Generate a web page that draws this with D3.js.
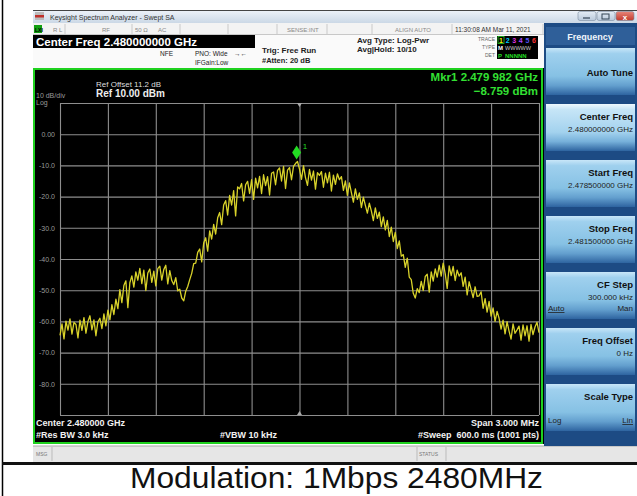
<!DOCTYPE html>
<html>
<head>
<meta charset="utf-8">
<script src="https://cdn.jsdelivr.net/npm/d3@7"></script>
<style>
  body { margin: 0; background: #fff; }
  svg { display: block; font-family: "Liberation Sans", Arial, sans-serif; }
</style>
</head>
<body>
<script>
// sweep settings
var startFreqGHz = 2.4785;
var stopFreqGHz = 2.4815;
var refLevel = 10, dbPerDiv = 10, divisions = 10;

// averaged trace, dBm, one value every 12.5 kHz (241 pts)
var traceDbm = [
  -64.5, -60.8, -65.6, -59.9, -62.8, -59.2, -64.1, -60.3, -61.0, -65.3,
  -59.6, -62.9, -58.8, -63.8, -60.0, -58.2, -62.7, -59.5, -64.6, -60.1,
  -59.0, -62.3, -57.6, -61.4, -56.4, -59.5, -54.6, -57.8, -52.9, -55.9,
  -49.8, -54.0, -48.5, -47.0, -55.6, -47.6, -45.4, -49.0, -44.1, -46.8,
  -43.0, -47.9, -43.6, -50.1, -44.5, -43.2, -47.5, -43.9, -48.6, -43.1,
  -42.3, -46.8, -43.4, -42.0, -48.0, -43.7, -46.9, -48.2, -46.0, -50.2,
  -49.7, -52.5, -53.4, -50.3, -48.8, -46.6, -44.6, -41.5, -41.3, -37.9,
  -36.8, -40.9, -34.9, -33.2, -37.5, -31.0, -33.6, -28.9, -32.0, -26.8,
  -25.1, -29.0, -22.7, -21.3, -25.9, -19.6, -22.7, -18.1, -26.2, -16.9,
  -17.5, -15.8, -21.4, -16.2, -15.1, -19.0, -14.6, -20.9, -14.1, -17.2,
  -13.5, -19.0, -13.0, -16.5, -13.6, -19.5, -12.5, -12.1, -16.2, -11.6,
  -10.8, -15.0, -10.3, -17.4, -11.5, -10.7, -14.6, -10.3, -9.4, -8.76,
  -11.2, -14.5, -10.1, -13.9, -16.4, -11.3, -14.7, -11.8, -17.6, -12.3,
  -13.2, -12.0, -17.0, -12.5, -15.6, -12.2, -18.2, -13.1, -16.1, -12.7,
  -14.6, -13.6, -18.0, -15.0, -19.6, -15.6, -18.7, -21.8, -17.5, -20.9,
  -18.8, -23.5, -20.2, -22.8, -25.3, -22.1, -24.6, -27.7, -23.6, -27.0,
  -25.0, -29.6, -26.5, -30.7, -27.6, -32.8, -29.8, -34.4, -31.5, -36.7,
  -34.2, -39.1, -38.6, -42.7, -39.7, -45.8, -46.6, -51.0, -52.5, -49.5,
  -50.8, -47.2, -50.1, -45.6, -44.9, -50.6, -44.1, -47.1, -43.2, -45.8,
  -42.0, -45.5, -41.3, -44.7, -49.4, -42.2, -45.3, -42.4, -46.9, -43.6,
  -45.5, -44.4, -48.8, -45.8, -51.5, -47.3, -49.8, -52.4, -48.9, -52.0,
  -51.8, -50.5, -55.8, -52.7, -57.0, -53.6, -58.3, -55.7, -60.0, -56.8,
  -59.0, -62.5, -59.6, -64.0, -60.1, -63.1, -65.7, -60.8, -63.8, -62.7,
  -61.5, -66.0, -61.1, -64.6, -61.4, -66.3, -61.0, -64.2, -61.8, -60.3, -63.6
];

var yTickValues = [0, -10, -20, -30, -40, -50, -60, -70, -80];
var yTickLabels = ["0.00", "-10.0", "-20.0", "-30.0", "-40.0", "-50.0", "-60.0", "-70.0", "-80.0"];

var markerFreqGHz = 2.479982;
var markerDbm = -8.759;

var softTitles = ["Auto Tune", "Center Freq", "Start Freq", "Stop Freq", "CF Step", "Freq Offset", "Scale Type"];
var softValues = ["", "2.480000000 GHz", "2.478500000 GHz", "2.481500000 GHz", "300.000 kHz", "0 Hz", ""];
var softLeft = ["", "", "", "", "Auto", "", "Log"];
var softRight = ["", "", "", "", "Man", "", "Lin"];

var W = 637, H = 496;
var svg = d3.select("body").append("svg").attr("width", W).attr("height", H);
var defs = svg.append("defs");

function grad(id, stops) {
  var g = defs.append("linearGradient").attr("id", id)
    .attr("x1", 0).attr("y1", 0).attr("x2", 0).attr("y2", 1);
  stops.forEach(function(s){ g.append("stop").attr("offset", s[0]).attr("stop-color", s[1]); });
}
grad("titleG", [[0, "#eef3f9"], [1, "#cbd8e6"]]);
grad("btnG", [[0, "#c8e6f8"], [0.12, "#9fd0ee"], [0.6, "#86c1e4"], [0.8, "#639fce"], [1, "#2e64a0"]]);
grad("btnSel", [[0, "#eef8fe"], [0.12, "#c6e5f7"], [0.6, "#a3d2ee"], [0.8, "#76b0da"], [1, "#2e64a0"]]);
grad("closeG", [[0, "#e8867a"], [1, "#c23a2c"]]);
grad("winG", [[0, "#e4ecf5"], [1, "#b9c9db"]]);

// outer table lines + caption
svg.append("line").attr("x1", 2.5).attr("x2", 2.5).attr("y1", 0).attr("y2", H)
  .attr("stroke", "#000").attr("stroke-width", 1.5);
svg.append("rect").attr("x", 2).attr("y", 462).attr("width", W).attr("height", 3).attr("fill", "#111");
svg.append("text").attr("x", 130).attr("y", 488)
  .attr("font-size", 29).attr("fill", "#111")
  .attr("textLength", 413).attr("lengthAdjust", "spacingAndGlyphs")
  .text("Modulation: 1Mbps 2480MHz");

// window title bar
svg.append("rect").attr("x", 33).attr("y", 10).attr("width", W - 33).attr("height", 13).attr("fill", "url(#titleG)");
svg.append("line").attr("x1", 33).attr("x2", W).attr("y1", 10.5).attr("y2", 10.5).attr("stroke", "#444");
svg.append("rect").attr("x", 35).attr("y", 12).attr("width", 9).attr("height", 8).attr("fill", "#bbb");
svg.append("rect").attr("x", 35).attr("y", 15).attr("width", 9).attr("height", 2.5).attr("fill", "#c0302a");
svg.append("text").attr("x", 50).attr("y", 19.5).attr("font-size", 7).attr("fill", "#333")
  .text("Keysight Spectrum Analyzer - Swept SA");
[[578, "url(#winG)"], [597, "url(#winG)"], [616, "url(#closeG)"]].forEach(function(b){
  svg.append("rect").attr("x", b[0]).attr("y", 11.5).attr("width", 18).attr("height", 9).attr("rx", 2)
    .attr("fill", b[1]).attr("stroke", "#7a8ca0").attr("stroke-width", 0.6);
});
svg.append("line").attr("x1", 583).attr("x2", 590).attr("y1", 18).attr("y2", 18).attr("stroke", "#345").attr("stroke-width", 1.2);
svg.append("rect").attr("x", 602).attr("y", 14).attr("width", 7).attr("height", 5).attr("fill", "none").attr("stroke", "#345").attr("stroke-width", 1);
svg.append("text").attr("x", 625).attr("y", 19.5).attr("text-anchor", "middle").attr("font-size", 8).attr("font-weight", "bold").attr("fill", "#fff").text("x");

// status row
svg.append("rect").attr("x", 33).attr("y", 23).attr("width", 512).attr("height", 12).attr("fill", "#f3f3f3");
[65, 132, 180, 228, 277, 327, 372, 452, 543].forEach(function(sx){
  svg.append("line").attr("x1", sx).attr("x2", sx).attr("y1", 24).attr("y2", 34).attr("stroke", "#b8b8b8").attr("stroke-width", 0.7);
});
svg.append("line").attr("x1", 33).attr("x2", 545).attr("y1", 34.5).attr("y2", 34.5).attr("stroke", "#c8c8c8");
svg.append("rect").attr("x", 34).attr("y", 25).attr("width", 8).attr("height", 8).attr("fill", "#11a011");
svg.append("text").attr("x", 35).attr("y", 31.5).attr("font-size", 5).attr("font-weight", "bold").attr("fill", "#000").text("LXI");
var statusText = [[53, "R L"], [102, "RF"], [135, "50 Ω"], [158, "AC"], [287, "SENSE:INT"], [395, "ALIGN AUTO"], [455, "11:30:08 AM Mar 11, 2021"]];
statusText.forEach(function(t){
  svg.append("text").attr("x", t[0]).attr("y", 31.5).attr("font-size", t[0] > 450 ? 6.5 : 6)
    .attr("fill", t[0] > 450 ? "#333" : "#888").text(t[1]);
});

// header info area
svg.append("rect").attr("x", 33).attr("y", 35).attr("width", 512).attr("height", 33).attr("fill", "#fafafa");
svg.append("rect").attr("x", 33).attr("y", 35).attr("width", 222).attr("height", 13).attr("fill", "#000");
svg.append("text").attr("x", 36).attr("y", 45.5).attr("font-size", 11.5).attr("font-weight", "bold").attr("fill", "#fff")
  .text("Center Freq 2.480000000 GHz");
var hdr = [
  [160, 56, 6.5, "normal", "NFE"], [195, 56, 6.5, "normal", "PNO: Wide"], [195, 64.5, 6.5, "normal", "IFGain:Low"],
  [234, 56, 6.5, "normal", "\u2192\u2190"],
  [262, 53, 8, "bold", "Trig: Free Run"], [262, 63, 7.5, "bold", "#Atten: 20 dB"],
  [357, 43, 8, "bold", "Avg Type: Log-Pwr"], [357, 52, 8, "bold", "Avg|Hold: 10/10"]
];
hdr.forEach(function(t){
  svg.append("text").attr("x", t[0]).attr("y", t[1]).attr("font-size", t[2]).attr("font-weight", t[3])
    .attr("fill", "#222").text(t[4]);
});
// trace/type/det box
svg.append("text").attr("x", 495).attr("y", 41).attr("text-anchor", "end").attr("font-size", 5).attr("fill", "#666").text("TRACE");
svg.append("text").attr("x", 495).attr("y", 49).attr("text-anchor", "end").attr("font-size", 5).attr("fill", "#666").text("TYPE");
svg.append("text").attr("x", 495).attr("y", 57).attr("text-anchor", "end").attr("font-size", 5).attr("fill", "#666").text("DET");
svg.append("rect").attr("x", 497).attr("y", 36).attr("width", 41).attr("height", 23).attr("fill", "#000");
svg.append("rect").attr("x", 498).attr("y", 36.5).attr("width", 6).attr("height", 7).attr("fill", "none").attr("stroke", "#2c2").attr("stroke-width", 0.8);
var trColors = ["#ee0", "#0cf", "#d3d", "#a4f", "#55f", "#f33"];
trColors.forEach(function(c, i){
  svg.append("text").attr("x", 501 + i * 6.6).attr("y", 42.5).attr("text-anchor", "middle").attr("font-size", 7).attr("font-weight", "bold").attr("fill", c).text(i + 1);
});
svg.append("text").attr("x", 498).attr("y", 50).attr("font-size", 6).attr("font-weight", "bold").attr("fill", "#fff").text("M");
svg.append("text").attr("x", 505).attr("y", 50).attr("font-size", 5.5).attr("fill", "#ccc").text("WWWWW");
svg.append("text").attr("x", 498).attr("y", 57.5).attr("font-size", 6).attr("font-weight", "bold").attr("fill", "#2d2").text("P");
svg.append("text").attr("x", 505).attr("y", 57.5).attr("font-size", 6).attr("font-weight", "bold").attr("fill", "#2d2").text("NNNNN");

// plot panel
svg.append("rect").attr("x", 33).attr("y", 68).attr("width", 511).attr("height", 376).attr("fill", "#000");
svg.append("rect").attr("x", 34).attr("y", 69).attr("width", 508).attr("height", 374)
  .attr("fill", "none").attr("stroke", "#1fd11f").attr("stroke-width", 2);

var gx0 = 60, gx1 = 539, gy0 = 103, gy1 = 415;
var x = d3.scaleLinear().domain([startFreqGHz, stopFreqGHz]).range([gx0, gx1]);
var y = d3.scaleLinear().domain([refLevel - dbPerDiv * divisions, refLevel]).range([gy1, gy0]);
var stepGHz = (stopFreqGHz - startFreqGHz) / (traceDbm.length - 1);

var xGrid = d3.range(divisions + 1).map(function(i){ return startFreqGHz + i * (stopFreqGHz - startFreqGHz) / divisions; });
var yGrid = d3.range(divisions + 1).map(function(i){ return refLevel - i * dbPerDiv; });

var gridX = svg.append("g").attr("transform", "translate(0," + gy1 + ")")
  .call(d3.axisBottom(x).tickValues(xGrid).tickSize(-(gy1 - gy0)).tickFormat(""));
var gridY = svg.append("g").attr("transform", "translate(" + gx0 + ",0)")
  .call(d3.axisLeft(y).tickValues(yGrid).tickSize(-(gx1 - gx0)).tickFormat(""));
[gridX, gridY].forEach(function(g){
  g.select(".domain").remove();
  g.selectAll("line").attr("stroke", "#8e8e8e").attr("stroke-width", 1.1);
});

var yLab = svg.append("g").attr("transform", "translate(58,0)")
  .call(d3.axisLeft(y).tickValues(yTickValues).tickSize(0)
    .tickFormat(function(d, i){ return yTickLabels[i]; }));
yLab.select(".domain").remove();
yLab.selectAll("text").attr("fill", "#9a9a9a").attr("font-size", 7).attr("font-family", "Liberation Sans, Arial, sans-serif").attr("dx", 0);

// center tick marks
var cx = x((startFreqGHz + stopFreqGHz) / 2);
svg.append("path").attr("d", "M" + (cx - 2.5) + "," + gy0 + "L" + (cx + 2.5) + "," + gy0 + "L" + cx + "," + (gy0 + 4) + "Z").attr("fill", "#aaa");
svg.append("path").attr("d", "M" + (cx - 2.5) + "," + gy1 + "L" + (cx + 2.5) + "," + gy1 + "L" + cx + "," + (gy1 - 4) + "Z").attr("fill", "#aaa");

// trace
var line = d3.line()
  .x(function(d, i){ return x(startFreqGHz + i * stepGHz); })
  .y(function(d){ return y(d); });
svg.append("path").datum(traceDbm).attr("d", line)
  .attr("fill", "none").attr("stroke", "#d8d22a").attr("stroke-width", 1.3).attr("stroke-linejoin", "round");

// marker
var mx = x(markerFreqGHz), my = y(markerDbm);
svg.append("path").attr("d", "M" + mx + "," + (my - 16) + "L" + (mx + 4.5) + "," + (my - 9) + "L" + mx + "," + (my - 2) + "L" + (mx - 4.5) + "," + (my - 9) + "Z")
  .attr("fill", "#22dd22");
svg.append("text").attr("x", mx + 6).attr("y", my - 13).attr("font-size", 8).attr("fill", "#22dd22").text("1");

// panel texts
svg.append("text").attr("x", 96).attr("y", 87).attr("font-size", 8).attr("fill", "#ddd").text("Ref Offset 11.2 dB");
svg.append("text").attr("x", 96).attr("y", 97).attr("font-size", 10).attr("font-weight", "bold").attr("fill", "#eee").text("Ref 10.00 dBm");
svg.append("text").attr("x", 36).attr("y", 98).attr("font-size", 7).attr("fill", "#999").text("10 dB/div");
svg.append("text").attr("x", 36).attr("y", 105).attr("font-size", 7).attr("fill", "#999").text("Log");
svg.append("text").attr("x", 538).attr("y", 81).attr("text-anchor", "end").attr("font-size", 11.5).attr("font-weight", "bold")
  .attr("fill", "#33e033").text("Mkr1 " + "2.479 982" + " GHz");
svg.append("text").attr("x", 538).attr("y", 95).attr("text-anchor", "end").attr("font-size", 11.5).attr("font-weight", "bold")
  .attr("fill", "#33e033").text(d3.format(".3f")(markerDbm) + " dBm");

var bot = [
  [36, 426, "start", "Center 2.480000 GHz"], [36, 438, "start", "#Res BW 3.0 kHz"],
  [220, 438, "start", "#VBW 10 kHz"], [539, 426, "end", "Span 3.000 MHz"],
  [539, 438, "end", "#Sweep  600.0 ms (1001 pts)"]
];
bot.forEach(function(t){
  svg.append("text").attr("x", t[0]).attr("y", t[1]).attr("text-anchor", t[2]).attr("font-size", 9)
    .attr("font-weight", "bold").attr("fill", "#f2f2f2").attr("xml:space", "preserve").text(t[3]);
});

// message bar
svg.append("rect").attr("x", 33).attr("y", 446).attr("width", W - 33).attr("height", 16).attr("fill", "#e6e6e6");
svg.append("line").attr("x1", 33).attr("x2", W).attr("y1", 446).attr("y2", 446).attr("stroke", "#aaa");
svg.append("line").attr("x1", 52).attr("x2", 52).attr("y1", 447).attr("y2", 461).attr("stroke", "#bbb");
svg.append("line").attr("x1", 417).attr("x2", 417).attr("y1", 447).attr("y2", 461).attr("stroke", "#bbb");
svg.append("line").attr("x1", 446).attr("x2", 446).attr("y1", 447).attr("y2", 461).attr("stroke", "#bbb");
svg.append("text").attr("x", 36).attr("y", 456).attr("font-size", 5).attr("fill", "#777").text("MSG");
svg.append("text").attr("x", 419).attr("y", 456).attr("font-size", 5).attr("fill", "#777").text("STATUS");

// softkey panel
svg.append("rect").attr("x", 544).attr("y", 23).attr("width", W - 544).attr("height", 423).attr("fill", "#1d4b84");
svg.append("rect").attr("x", 546).attr("y", 27).attr("width", W - 548).attr("height", 18).attr("fill", "#2f5f99");
svg.append("text").attr("x", 590).attr("y", 40).attr("text-anchor", "middle").attr("font-size", 9).attr("font-weight", "bold")
  .attr("fill", "#eef4fb").text("Frequency");
softTitles.forEach(function(t, i){
  var by = 48 + i * 56;
  svg.append("rect").attr("x", 546).attr("y", by).attr("width", W - 548).attr("height", 47)
    .attr("fill", i === 1 ? "url(#btnSel)" : "url(#btnG)");
  var hasVal = softValues[i] !== "" || softLeft[i] !== "";
  svg.append("text").attr("x", 633).attr("y", hasVal ? by + 16 : by + 28).attr("text-anchor", "end")
    .attr("font-size", 9.5).attr("font-weight", "bold").attr("fill", "#111").text(t);
  if (softValues[i]) {
    svg.append("text").attr("x", 633).attr("y", by + 28).attr("text-anchor", "end")
      .attr("font-size", 8).attr("fill", "#222").text(softValues[i]);
  }
  if (softLeft[i]) {
    var ly = by + 39;
    svg.append("text").attr("x", 548).attr("y", ly).attr("font-size", 8).attr("fill", "#222")
      .attr("text-decoration", i === 4 ? "underline" : null).text(softLeft[i]);
    svg.append("text").attr("x", 633).attr("y", ly).attr("text-anchor", "end").attr("font-size", 8).attr("fill", "#222")
      .attr("text-decoration", i === 6 ? "underline" : null).text(softRight[i]);
  }
});
</script>
</body>
</html>
